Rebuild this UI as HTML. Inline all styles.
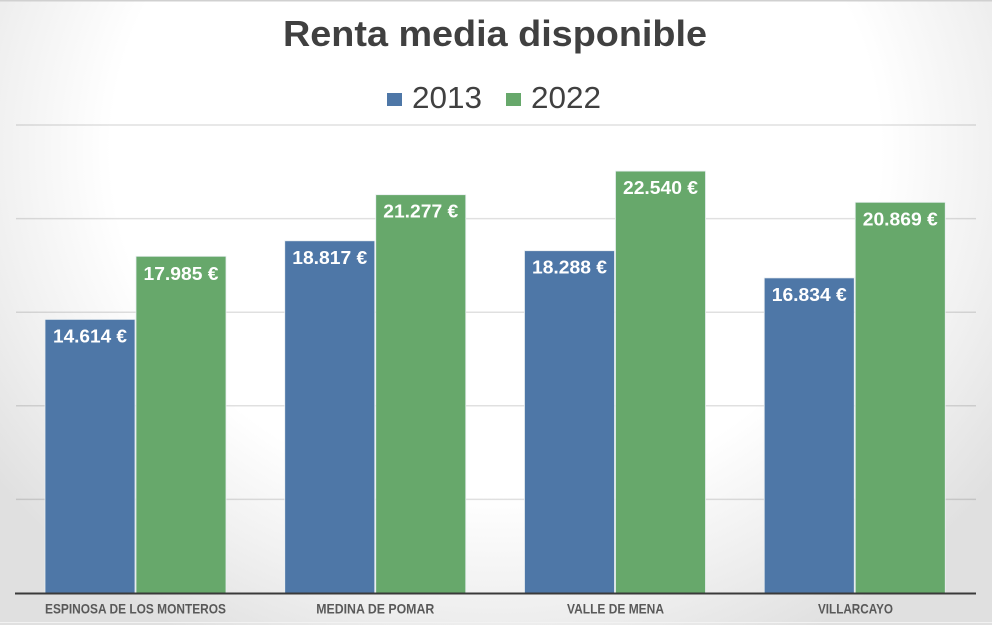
<!DOCTYPE html>
<html>
<head>
<meta charset="utf-8">
<style>
  html, body { margin:0; padding:0; }
  body {
    width:992px; height:625px; overflow:hidden;
    background: radial-gradient(ellipse 620px 560px at 496px 150px, #ffffff 0%, #ffffff 62%, #f1f1f1 80%, #e0e0e0 100%);
    font-family: "Liberation Sans", Arial, sans-serif;
  }
  svg { display:block; }
</style>
</head>
<body>
<svg width="992" height="625" viewBox="0 0 992 625" xmlns="http://www.w3.org/2000/svg">
  <!-- top border -->
  <rect x="0" y="0" width="992" height="1.5" fill="#d0d0d0"/>

  <!-- Title -->
  <text x="495" y="46" text-anchor="middle" font-family="Liberation Sans, Arial, sans-serif" font-weight="bold" font-size="36" fill="#404040" textLength="424" lengthAdjust="spacingAndGlyphs">Renta media disponible</text>

  <!-- Legend -->
  <rect x="387" y="93" width="15" height="13" fill="#4e77a7"/>
  <text x="412" y="108" font-family="Liberation Sans, Arial, sans-serif" font-size="31" fill="#404040" textLength="70" lengthAdjust="spacingAndGlyphs">2013</text>
  <rect x="506" y="93" width="15" height="13" fill="#67a86b"/>
  <text x="531" y="108" font-family="Liberation Sans, Arial, sans-serif" font-size="31" fill="#404040" textLength="70" lengthAdjust="spacingAndGlyphs">2022</text>

  <!-- Gridlines -->
  <g stroke="rgba(0,0,0,0.12)" stroke-width="1.5">
    <line x1="16" y1="125" x2="976" y2="125"/>
    <line x1="16" y1="218.6" x2="976" y2="218.6"/>
    <line x1="16" y1="312.2" x2="976" y2="312.2"/>
    <line x1="16" y1="405.8" x2="976" y2="405.8"/>
    <line x1="16" y1="499.4" x2="976" y2="499.4"/>
  </g>

  <!-- Bars -->
  <g stroke="#e8eef0" stroke-width="0.8">
    <rect x="45" y="319.4" width="90" height="273.6" fill="#4e77a7"/>
    <rect x="136" y="256.3" width="90" height="336.7" fill="#67a86b"/>
    <rect x="284.75" y="240.8" width="90" height="352.2" fill="#4e77a7"/>
    <rect x="375.75" y="194.7" width="90" height="398.3" fill="#67a86b"/>
    <rect x="524.5" y="250.7" width="90" height="342.3" fill="#4e77a7"/>
    <rect x="615.5" y="171.1" width="90" height="421.9" fill="#67a86b"/>
    <rect x="764.25" y="277.9" width="90" height="315.1" fill="#4e77a7"/>
    <rect x="855.25" y="202.3" width="90" height="390.7" fill="#67a86b"/>
  </g>

  <!-- Data labels -->
  <g font-family="Liberation Sans, Arial, sans-serif" font-weight="bold" font-size="18" fill="#ffffff" text-anchor="middle">
    <text x="90" y="342.4" textLength="74" lengthAdjust="spacingAndGlyphs">14.614 €</text>
    <text x="181" y="279.8" textLength="75" lengthAdjust="spacingAndGlyphs">17.985 €</text>
    <text x="329.75" y="263.8" textLength="75" lengthAdjust="spacingAndGlyphs">18.817 €</text>
    <text x="420.75" y="217.7" textLength="75" lengthAdjust="spacingAndGlyphs">21.277 €</text>
    <text x="569.5" y="273.7" textLength="75" lengthAdjust="spacingAndGlyphs">18.288 €</text>
    <text x="660.5" y="194.1" textLength="75" lengthAdjust="spacingAndGlyphs">22.540 €</text>
    <text x="809.25" y="300.9" textLength="75" lengthAdjust="spacingAndGlyphs">16.834 €</text>
    <text x="900.25" y="225.3" textLength="75" lengthAdjust="spacingAndGlyphs">20.869 €</text>
  </g>

  <!-- Axis -->
  <line x1="15" y1="593.5" x2="976" y2="593.5" stroke="#3a3a3a" stroke-width="2"/>

  <!-- Category labels -->
  <g font-family="Liberation Sans, Arial, sans-serif" font-weight="bold" font-size="14" fill="#595959" text-anchor="middle">
    <text x="135.5" y="613.5" textLength="181" lengthAdjust="spacingAndGlyphs">ESPINOSA  DE  LOS MONTEROS</text>
    <text x="375.25" y="613.5" textLength="118" lengthAdjust="spacingAndGlyphs">MEDINA  DE  POMAR</text>
    <text x="615.5" y="613.5" textLength="97" lengthAdjust="spacingAndGlyphs">VALLE  DE  MENA</text>
    <text x="855.5" y="613.5" textLength="75" lengthAdjust="spacingAndGlyphs">VILLARCAYO</text>
  </g>

  <!-- bottom subtle line -->
  <rect x="0" y="622" width="992" height="1" fill="#f2f2f2"/>
</svg>
</body>
</html>
